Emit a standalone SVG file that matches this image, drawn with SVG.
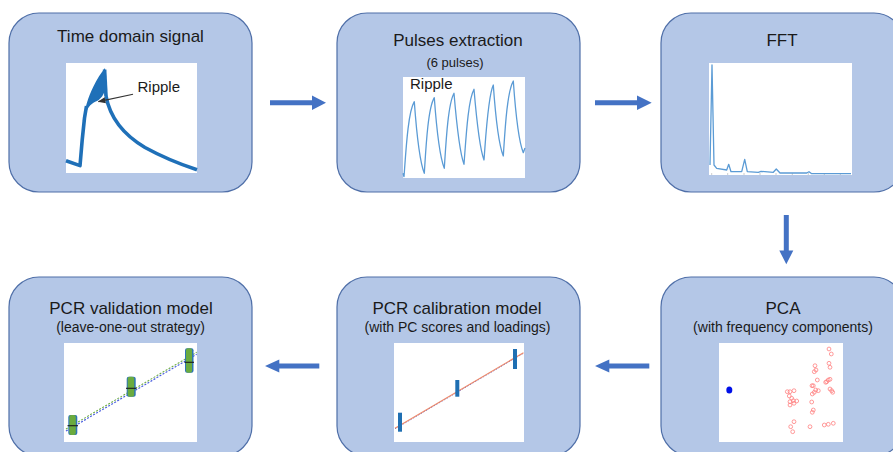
<svg xmlns="http://www.w3.org/2000/svg" width="893" height="452" viewBox="0 0 893 452">
  <style>
    .box { fill: #b4c7e7; stroke: #4f6fa8; stroke-width: 1.2; }
    .plot { fill: #ffffff; }
    .title { font-family: "Liberation Sans", Arial, sans-serif; font-size: 17px; fill: #1a1a1a; text-anchor: middle; }
    .sub { font-family: "Liberation Sans", Arial, sans-serif; font-size: 14px; fill: #1a1a1a; text-anchor: middle; }
    .lbl { font-family: "Liberation Sans", Arial, sans-serif; font-size: 15px; fill: #1a1a1a; }
    .flow { fill: #4472c4; }
    .trace { fill: none; stroke: #5b9bd5; stroke-width: 1.3; stroke-linejoin: round; }
    .tick { stroke: #bfbfbf; stroke-width: 0.8; }
    .pt { fill: none; stroke: #ff8080; stroke-width: 0.8; }
  </style>
  <defs>
    <marker id="ptr" viewBox="0 0 10 10" refX="9" refY="5" markerWidth="7" markerHeight="7" orient="auto">
      <path d="M0,1 L10,5 L0,9 Z" fill="#333333"/>
    </marker>
  </defs>

  <!-- Step 1: raw time domain signal -->
  <g id="time-domain">
    <rect class="box" x="9" y="13" width="243" height="179" rx="30"/>
    <text class="title" x="130.5" y="42">Time domain signal</text>
    <rect class="plot" x="66" y="63" width="131" height="110"/>
    <g fill="none" stroke="#1f70b8" stroke-width="3.6" stroke-linejoin="round" stroke-linecap="butt">
      <path d="M66,160.8 L80,165.6 L82.2,140 L84.5,118 L86.5,106"/>
      <path d="M104.6,69.5 L106,96"/>
      <path d="M106,96 C110,118 124,135 145,147.5 C165,158.5 181,164.5 197,169.8"/>
    </g>
    <!-- ripple band on the rising edge -->
    <path d="M82.8,121 C85,108 88,97 93.3,86.7 C97,79 101,73 105,68 L106,88 C103.5,95 101,99 97,101 C92,103 88,106 85.5,114 Z" fill="#1f70b8"/>
    <line x1="133" y1="94.3" x2="98.5" y2="101.6" stroke="#333333" stroke-width="1.1" marker-end="url(#ptr)"/>
    <text class="lbl" x="137.5" y="92">Ripple</text>
  </g>

  <!-- Step 2: individual pulses -->
  <g id="pulses">
    <rect class="box" x="337" y="13" width="243" height="179" rx="30"/>
    <text class="title" x="458" y="46">Pulses extraction</text>
    <text class="sub" x="455" y="67" style="font-size:13px">(6 pulses)</text>
    <rect class="plot" x="403" y="77" width="122" height="101"/>
    <text class="lbl" x="410" y="89">Ripple</text>
    <path class="trace" d="M403,173.3 L404,176.7
      C406,150 408,112 414.3,101.7 C416,125 419,160 424.3,173.3
      C426,146 428,108 434.3,97.7 C436,121 439,155 444.3,168.3
      C446,142 448,104 454,93.3 C456,117 459,151 464,164.3
      C466,138 468,100 474,89.3 C476,113 479,147 484,160
      C486,134 488,96 493.3,85 C495,109 498,143 503.3,156
      C505,130 507,92 513.3,81 C515,105 518,140 523.3,152.7 L525,148"/>
  </g>

  <!-- Step 3: spectrum -->
  <g id="fft">
    <rect class="box" x="661" y="13" width="243" height="179" rx="30"/>
    <text class="title" x="782" y="46">FFT</text>
    <rect class="plot" x="709" y="63" width="143" height="112"/>
    <g class="tick">
      <line x1="711.7" y1="173" x2="711.7" y2="175"/>
      <line x1="727.7" y1="173" x2="727.7" y2="175"/>
      <line x1="744" y1="173" x2="744" y2="175"/>
      <line x1="760" y1="173" x2="760" y2="175"/>
      <line x1="776" y1="173" x2="776" y2="175"/>
      <line x1="792.3" y1="173" x2="792.3" y2="175"/>
      <line x1="808.3" y1="173" x2="808.3" y2="175"/>
      <line x1="824.3" y1="173" x2="824.3" y2="175"/>
      <line x1="840.3" y1="173" x2="840.3" y2="175"/>
    </g>
    <path class="trace" d="M710,165 L712,65 L714,165 L716.7,168.3 L726.7,170 L728.7,164.3 L731,171.7 L741.7,171.7 L744.7,159.3 L747.3,171.7 L758.3,172.3 L761,171.3 L773.3,172.3 L776.3,169 L780,173 L806.7,173 L809,171.7 L811.7,173.7 L851,173.7"/>
  </g>

  <!-- Step 4: principal component analysis -->
  <g id="pca">
    <rect class="box" x="661" y="277" width="243" height="179" rx="30"/>
    <text class="title" x="783" y="313.5">PCA</text>
    <text class="sub" x="783" y="332">(with frequency components)</text>
    <rect class="plot" x="719" y="343" width="124" height="99"/>
    <ellipse cx="729.3" cy="390" rx="3" ry="3.5" fill="#0010e8"/>
    <g class="pt">
      <circle cx="829" cy="349" r="1.9"/><circle cx="831.3" cy="354" r="1.9"/>
      <circle cx="829" cy="363.3" r="1.9"/><circle cx="830" cy="367.3" r="1.9"/>
      <circle cx="815" cy="365.7" r="1.9"/><circle cx="816" cy="370" r="1.9"/>
      <circle cx="814.3" cy="371.7" r="1.9"/><circle cx="817.3" cy="380" r="1.9"/>
      <circle cx="812" cy="385.7" r="1.9"/><circle cx="813.3" cy="385.7" r="1.9"/>
      <circle cx="826.7" cy="381.7" r="1.9"/><circle cx="828.3" cy="380" r="1.9"/>
      <circle cx="830" cy="379.3" r="1.9"/><circle cx="825.7" cy="382.3" r="1.9"/>
      <circle cx="830" cy="389" r="1.9"/><circle cx="831.7" cy="390.7" r="1.9"/>
      <circle cx="832.7" cy="392.3" r="1.9"/><circle cx="815.7" cy="390" r="1.9"/>
      <circle cx="818.3" cy="390.7" r="1.9"/><circle cx="814.3" cy="392.3" r="1.9"/>
      <circle cx="812.3" cy="394" r="1.9"/><circle cx="787.3" cy="391.7" r="1.9"/>
      <circle cx="790" cy="391.7" r="1.9"/><circle cx="794" cy="390.7" r="1.9"/>
      <circle cx="789.3" cy="396" r="1.9"/><circle cx="791.7" cy="398.3" r="1.9"/>
      <circle cx="793.3" cy="400.7" r="1.9"/><circle cx="796.7" cy="401" r="1.9"/>
      <circle cx="790" cy="401.7" r="1.9"/><circle cx="794" cy="403.3" r="1.9"/>
      <circle cx="790" cy="405" r="1.9"/><circle cx="811.7" cy="402" r="1.9"/>
      <circle cx="813.3" cy="410" r="1.9"/><circle cx="812.3" cy="412.3" r="1.9"/>
      <circle cx="794" cy="421.7" r="1.9"/><circle cx="790.7" cy="426.7" r="1.9"/>
      <circle cx="792.7" cy="431.7" r="1.9"/><circle cx="810" cy="426.7" r="1.9"/>
      <circle cx="824.3" cy="425" r="1.9"/><circle cx="828.3" cy="424.3" r="1.9"/>
      <circle cx="833.3" cy="423.3" r="1.9"/>
    </g>
  </g>

  <!-- Step 5: calibration regression -->
  <g id="pcr-calibration">
    <rect class="box" x="337" y="277" width="243" height="179" rx="30"/>
    <text class="title" x="457" y="313.5">PCR calibration model</text>
    <text class="sub" x="457.5" y="331.5">(with PC scores and loadings)</text>
    <rect class="plot" x="394" y="343" width="130" height="99"/>
    <line x1="395" y1="428.8" x2="523.5" y2="353.2" stroke="#5a6ee0" stroke-width="1" stroke-dasharray="1.5 1.5"/>
    <line x1="395" y1="428.3" x2="523.5" y2="352.7" stroke="#ef8a6a" stroke-width="1.2"/>
    <g fill="#1f6fb2">
      <rect x="398" y="412.7" width="4" height="19"/>
      <rect x="455.3" y="380" width="4" height="16.7"/>
      <rect x="513" y="349" width="4" height="20"/>
    </g>
  </g>

  <!-- Step 6: leave-one-out validation -->
  <g id="pcr-validation">
    <rect class="box" x="9" y="277" width="243" height="179" rx="30"/>
    <text class="title" x="131" y="313.5">PCR validation model</text>
    <text class="sub" x="130.5" y="331.5">(leave-one-out strategy)</text>
    <rect class="plot" x="64" y="343" width="133" height="99"/>
    <line x1="66" y1="431" x2="196.7" y2="354.3" stroke="#4a5ee0" stroke-width="1.2" stroke-dasharray="2 1.5"/>
    <line x1="66" y1="429" x2="196.7" y2="352.3" stroke="#70ad47" stroke-width="1.1" stroke-dasharray="2 1.5"/>
    <g fill="#2e75b6">
      <rect x="68.3" y="415" width="9" height="20" rx="2"/>
      <rect x="126.7" y="376.7" width="9" height="20" rx="2"/>
      <rect x="185" y="348.3" width="8.5" height="24.4" rx="2"/>
    </g>
    <g fill="#6aab3f">
      <rect x="69.3" y="415" width="6.5" height="20" rx="2"/>
      <rect x="127.7" y="376.7" width="6.5" height="20" rx="2"/>
      <rect x="186" y="348.3" width="6" height="24.4" rx="2"/>
    </g>
    <g stroke="#1a1a1a" stroke-width="1.1">
      <line x1="67.5" y1="425.7" x2="78" y2="425.7"/>
      <line x1="126" y1="388.3" x2="136.5" y2="388.3"/>
      <line x1="184.5" y1="362.3" x2="194" y2="362.3"/>
    </g>
  </g>

  <!-- Flow arrows between the steps -->
  <g id="connectors" class="flow">
    <polygon points="270,100.2 312,100.2 312,95.5 326,102.7 312,110 312,105.2 270,105.2"/>
    <polygon points="595,100.2 637,100.2 637,95.5 651.7,102.7 637,110 637,105.2 595,105.2"/>
    <polygon points="783.8,215 788.8,215 788.8,250.5 793.3,250.5 786.3,264.3 779.3,250.5 783.8,250.5"/>
    <polygon points="649.3,363.5 609.3,363.5 609.3,359.5 595,366 609.3,372.5 609.3,368.5 649.3,368.5"/>
    <polygon points="319.3,363.5 279.3,363.5 279.3,359.5 265,366 279.3,372.5 279.3,368.5 319.3,368.5"/>
  </g>
</svg>
